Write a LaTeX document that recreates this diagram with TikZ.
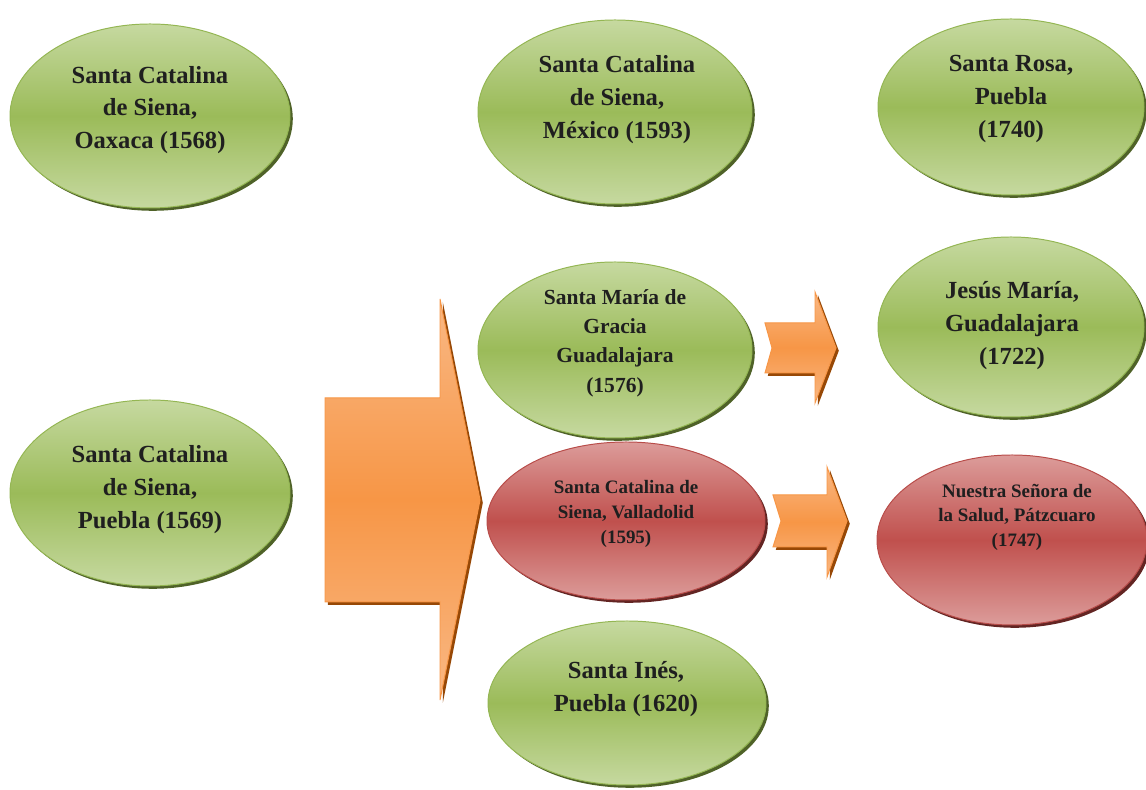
\documentclass[tikz,border=0pt]{standalone}
\usepackage{fontspec}
\setmainfont{Liberation Serif}
\usetikzlibrary{shapes.geometric,shadows}
\definecolor{grnmid}{HTML}{9BBB59}
\definecolor{grnlight}{HTML}{C6D9A0}
\definecolor{grnline}{HTML}{94B653}
\definecolor{grndark}{HTML}{4F6228}
\definecolor{redmid}{HTML}{C0504D}
\definecolor{redlight}{HTML}{DC9C9A}
\definecolor{redline}{HTML}{B84C49}
\definecolor{reddark}{HTML}{632523}
\definecolor{orgmid}{HTML}{F79646}
\definecolor{orglight}{HTML}{F9B884}
\definecolor{orgdark}{HTML}{974806}

\begin{document}
\begin{tikzpicture}[
		convento/.style={ellipse,inner sep=0pt,line width=0.7pt},
		verde/.style={convento,draw=grnline,top color=grnlight,bottom color=grnlight,middle color=grnmid,
			drop shadow={shadow xshift=0.07cm,shadow yshift=-0.07cm,fill=grndark,opacity=1}},
		rojo/.style={convento,draw=redline,top color=redlight,bottom color=redlight,middle color=redmid,
			drop shadow={shadow xshift=0.07cm,shadow yshift=-0.07cm,fill=reddark,opacity=1}},
		flecha/.style={draw=orgmid,line width=0.7pt,top color=orglight,bottom color=orglight,middle color=orgmid,
			drop shadow={shadow xshift=0.07cm,shadow yshift=-0.07cm,fill=orgdark,opacity=1}},
		nombre/.style={align=center,text=black!88,font=\bfseries\fontsize{17.5}{23.4}\selectfont},
		nombremed/.style={nombre,font=\bfseries\fontsize{15.3}{20.8}\selectfont},
		nombrechico/.style={nombre,font=\bfseries\fontsize{13.5}{17.6}\selectfont}
		]
		\useasboundingbox (0,0) rectangle (28.65,19.75);
		% fundaciones
		\node[verde,minimum width=7cm,minimum height=4.6cm] (oaxaca) at (3.75,16.85) {};
		\node[verde,minimum width=7cm,minimum height=4.65cm] (puebla) at (3.75,7.425) {};
		\node[verde,minimum width=6.85cm,minimum height=4.6cm] (mexico) at (15.375,16.95) {};
		\node[verde,minimum width=6.85cm,minimum height=4.4cm] (gracia) at (15.375,11.0) {};
		\node[rojo,minimum width=6.95cm,minimum height=3.95cm] (valladolid) at (15.65,6.725) {};
		\node[verde,minimum width=6.95cm,minimum height=4.1cm] (ines) at (15.675,2.175) {};
		\node[verde,minimum width=6.65cm,minimum height=4.4cm] (rosa) at (25.275,17.075) {};
		\node[verde,minimum width=6.65cm,minimum height=4.5cm] (jesus) at (25.275,11.575) {};
		\node[rojo,minimum width=6.75cm,minimum height=4.25cm] (salud) at (25.3,6.25) {};
		% textos
		\node[nombre] (oaxacaT) at (3.75,17.0) {Santa Catalina\\de Siena,\\Oaxaca (1568)};
		\node[nombre] (pueblaT) at (3.75,7.52) {Santa Catalina\\de Siena,\\Puebla (1569)};
		\node[nombre] (mexicoT) at (15.425,17.27) {Santa Catalina\\de Siena,\\México (1593)};
		\node[nombremed] (graciaT) at (15.375,11.17) {Santa María de\\Gracia\\Guadalajara\\(1576)};
		\node[nombrechico] (valladolidT) at (15.65,6.9) {Santa Catalina de\\Siena, Valladolid\\(1595)};
		\node[nombre] (inesT) at (15.65,2.52) {Santa Inés,\\Puebla (1620)};
		\node[nombre] (rosaT) at (25.275,17.27) {Santa Rosa,\\Puebla\\(1740)};
		\node[nombre] (jesusT) at (25.3,11.62) {Jesús María,\\Guadalajara\\(1722)};
		\node[nombrechico] (saludT) at (25.425,6.82) {Nuestra Señora de\\la Salud, Pátzcuaro\\(1747)};
		% flechas
		\path[flecha] (8.125,9.8) -- (11.0,9.8) -- (11.0,12.275) -- (12.0,7.25)
			-- (11.0,2.25) -- (11.0,4.7) -- (8.125,4.7) -- cycle;
		\path[flecha] (19.125,11.675) -- (20.375,11.675) -- (20.375,12.45) -- (20.9,11.05)
			-- (20.375,9.675) -- (20.375,10.425) -- (19.125,10.425) -- (19.3,11.05) -- cycle;
		\path[flecha] (19.325,7.375) -- (20.675,7.375) -- (20.675,8.075) -- (21.175,6.725)
			-- (20.675,5.325) -- (20.675,6.075) -- (19.325,6.075) -- (19.525,6.725) -- cycle;
\end{tikzpicture}
\end{document}
